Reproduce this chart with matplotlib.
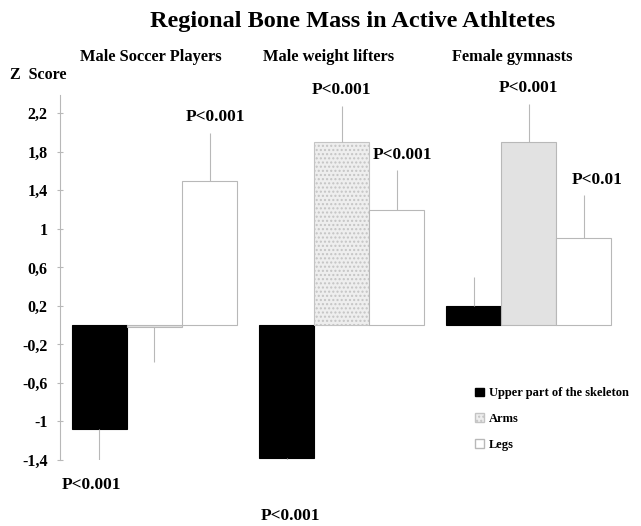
import matplotlib
matplotlib.use("Agg")
import matplotlib.pyplot as plt
from matplotlib.patches import Patch
import numpy as np

groups = ["Male Soccer Players", "Male weight lifters", "Female gymnasts"]
series = ["Upper part of the skeleton", "Arms", "Legs"]

upper = [-1.08, -1.38, 0.2]
arms = [-0.02, 1.9, 1.9]
legs = [1.5, 1.2, 0.9]

upper_err = [0.32, 0.38, 0.3]
arms_err = [0.36, 0.38, 0.4]
legs_err = [0.5, 0.41, 0.45]

upper_p = ["P<0.001", "P<0.001", None]
arms_p = [None, "P<0.001", "P<0.001"]
legs_p = ["P<0.001", "P<0.001", "P<0.01"]

yticks = [-1.4, -1, -0.6, -0.2, 0.2, 0.6, 1, 1.4, 1.8, 2.2]

SERIF = "Liberation Serif"
GREY = "#b8b8b8"


def fmt(v):
  s = f"{v:g}".replace(".", ",")
  return s


def main():
  plt.rcParams.update({"font.family": SERIF, "font.weight": "bold"})
  fig = plt.figure(figsize=(6.41, 5.26), dpi=100)
  W, H = 641, 526
  ax = fig.add_axes([60 / W, 1 - 460 / H, (W - 60) / W, (460 - 95) / H])

  x = np.arange(len(groups))
  width = 0.294

  styles = [
    dict(facecolor="black", edgecolor="black"),
    dict(facecolor="#e2e2e2", edgecolor=GREY),
    dict(facecolor="white", edgecolor=GREY),
  ]
  data = [upper, arms, legs]
  errs = [upper_err, arms_err, legs_err]
  plabels = [upper_p, arms_p, legs_p]
  # small nudges of the p-value labels (points)
  nudges = [[(-6, -18), (3, -15), (0, 0)],
            [(0, 0), (0, 11), (0, 11)],
            [(4, 11), (4, 11), (10, 11)]]

  for j, (vals, err, labs) in enumerate(zip(data, errs, plabels)):
    pos = x + (j - 1) * width
    bars = ax.bar(pos, vals, width, linewidth=0.8, **styles[j])
    if j == 1:
      # weight lifters' arms bar has a dotted fill
      bars[1].set_hatch("....")
      bars[1].set_facecolor("#eeeeee")
      bars[1].set_edgecolor("#c4c4c4")
    vals = np.array(vals)
    lo = np.where(vals < 0, err, 0)
    hi = np.where(vals >= 0, err, 0)
    ax.errorbar(pos, vals, yerr=[lo, hi], fmt="none", ecolor=GREY,
                elinewidth=0.8, capsize=0)
    for i, lab in enumerate(labs):
      if lab is None:
        continue
      if vals[i] >= 0:
        y = vals[i] + err[i]
      else:
        y = vals[i] - err[i]
      ax.annotate(lab, (pos[i], y), xytext=nudges[j][i],
                  textcoords="offset points", ha="center", va="center",
                  fontsize=12.5, fontweight="bold", annotation_clip=False)

  ax.set_xlim(-0.505, 2.60)
  ax.set_ylim(-1.4, 2.39)
  ax.set_xticks([])
  ax.set_yticks(yticks)
  ax.set_yticklabels([fmt(v) for v in yticks], fontsize=11.5,
                     fontweight="bold")
  ax.tick_params(axis="y", direction="inout", length=4, color=GREY,
                 width=0.8, pad=7)
  for s in ["top", "right", "bottom"]:
    ax.spines[s].set_visible(False)
  ax.spines["left"].set_color(GREY)
  ax.spines["left"].set_linewidth(0.8)

  fig.text(353 / W, 1 - 22 / H, "Regional Bone Mass in Active Athltetes",
           ha="center", va="center", fontsize=17.5, fontweight="bold")
  for gx, name in zip([151, 329, 512], groups):
    fig.text(gx / W, 1 - 57 / H, name, ha="center", va="center",
             fontsize=11.8, fontweight="bold")
  fig.text(10 / W, 1 - 75 / H, "Z  Score", ha="left", va="center",
           fontsize=11.5, fontweight="bold")

  handles = [
    Patch(facecolor="black", edgecolor="black"),
    Patch(facecolor="#eeeeee", edgecolor="#c4c4c4", hatch="...."),
    Patch(facecolor="white", edgecolor=GREY),
  ]
  fig.legend(handles, series, loc="center left",
             bbox_to_anchor=(464 / W, 1 - 419 / H), frameon=False,
             handlelength=0.7, handleheight=0.7,
             handletextpad=0.4, labelspacing=1.1,
             prop={"family": SERIF, "weight": "bold", "size": 9})

  fig.savefig("out.png", dpi=100)


if __name__ == "__main__":
  main()
